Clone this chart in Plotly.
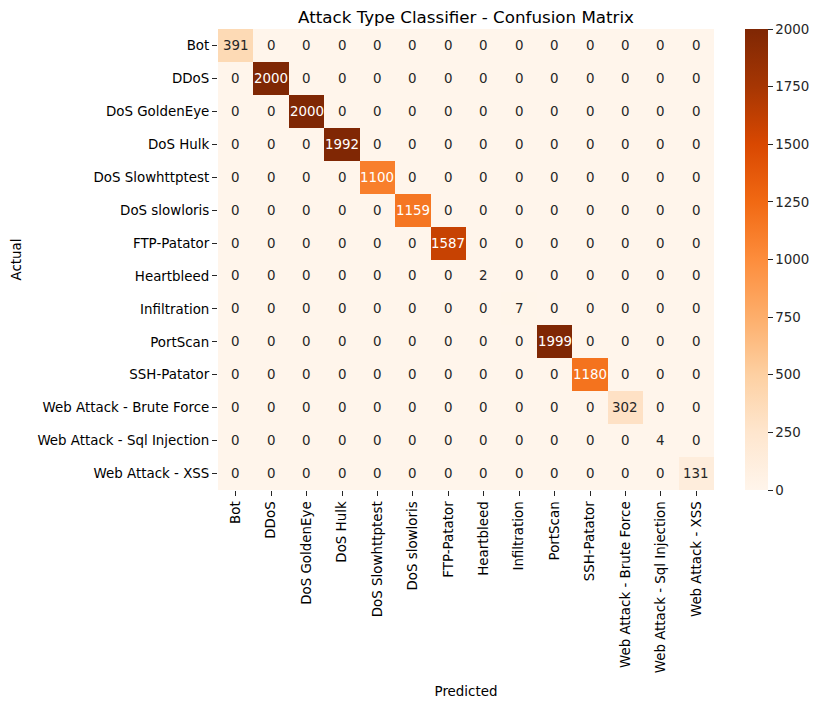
import plotly.graph_objects as go
import plotly.colors as pc

labels = ["Bot", "DDoS", "DoS GoldenEye", "DoS Hulk", "DoS Slowhttptest", "DoS slowloris",
          "FTP-Patator", "Heartbleed", "Infiltration", "PortScan", "SSH-Patator",
          "Web Attack - Brute Force", "Web Attack - Sql Injection", "Web Attack - XSS"]
diag_values = [391, 2000, 2000, 1992, 1100, 1159, 1587, 2, 7, 1999, 1180, 302, 4, 131]

n = len(labels)
z = [[diag_values[i] if i == j else 0 for j in range(n)] for i in range(n)]
zmin, zmax = 0, 2000

scale = pc.sequential.Oranges
def color_at(v):
    t = (v - zmin) / (zmax - zmin)
    t = min(max(t, 0), 1)
    cols = [pc.unlabel_rgb(c) if c.startswith("rgb") else pc.hex_to_rgb(c) for c in scale]
    pos = t * (len(cols) - 1)
    i = min(int(pos), len(cols) - 2)
    f = pos - i
    return [cols[i][k] + (cols[i + 1][k] - cols[i][k]) * f for k in range(3)]

def lum(rgb):
    out = []
    for c in rgb:
        c = c / 255
        out.append(c / 12.92 if c <= 0.03928 else ((c + 0.055) / 1.055) ** 2.4)
    return 0.2126 * out[0] + 0.7152 * out[1] + 0.0722 * out[2]

FS = 13.4
fig = go.Figure()
fig.add_trace(go.Heatmap(
    z=z, x=labels, y=labels, colorscale="Oranges", zmin=zmin, zmax=zmax,
    colorbar=dict(
        x=(745 - 218) / 496, xanchor="left", xref="paper", xpad=0,
        y=0.5, yanchor="middle", yref="paper", ypad=0,
        len=1, lenmode="fraction", thickness=23, thicknessmode="pixels",
        outlinewidth=0, tickvals=list(range(0, 2001, 250)),
        ticks="outside", ticklen=5, tickwidth=1, tickcolor="#262626",
        tickfont=dict(family="DejaVu Sans", size=FS, color="#262626"),
    ),
    hovertemplate="Actual: %{y}<br>Predicted: %{x}<br>%{z}<extra></extra>",
))

annotations = []
for i in range(n):
    for j in range(n):
        v = z[i][j]
        col = "white" if lum(color_at(v)) < 0.408 else "#262626"
        annotations.append(dict(
            x=labels[j], y=labels[i], xref="x", yref="y", text=str(v),
            showarrow=False, font=dict(family="DejaVu Sans", size=FS, color=col)))

fig.update_layout(
    width=822, height=709,
    margin=dict(l=218, r=108, t=29, b=219, autoexpand=False),
    paper_bgcolor="white", plot_bgcolor="white",
    font=dict(family="DejaVu Sans", size=FS, color="#262626"),
    title=dict(text="Attack Type Classifier - Confusion Matrix", x=(218 + 714) / 2 / 822,
               xanchor="center", y=1 - 17 / 709, yanchor="middle",
               font=dict(family="DejaVu Sans", size=16.7, color="black")),
    annotations=annotations,
    xaxis=dict(title=dict(text="Predicted", standoff=14,
                          font=dict(family="DejaVu Sans", size=FS, color="black")),
               tickangle=-90, ticks="outside", ticklen=5, tickcolor="#262626",
               showgrid=False, zeroline=False, showline=False, automargin=False,
               tickfont=dict(family="DejaVu Sans", size=FS, color="black")),
    yaxis=dict(title=dict(text="Actual", standoff=12,
                          font=dict(family="DejaVu Sans", size=FS, color="black")),
               autorange="reversed", ticks="outside", ticklen=5, tickcolor="#262626",
               showgrid=False, zeroline=False, showline=False, automargin=False,
               tickfont=dict(family="DejaVu Sans", size=FS, color="black")),
)

fig.write_html("out.html")
